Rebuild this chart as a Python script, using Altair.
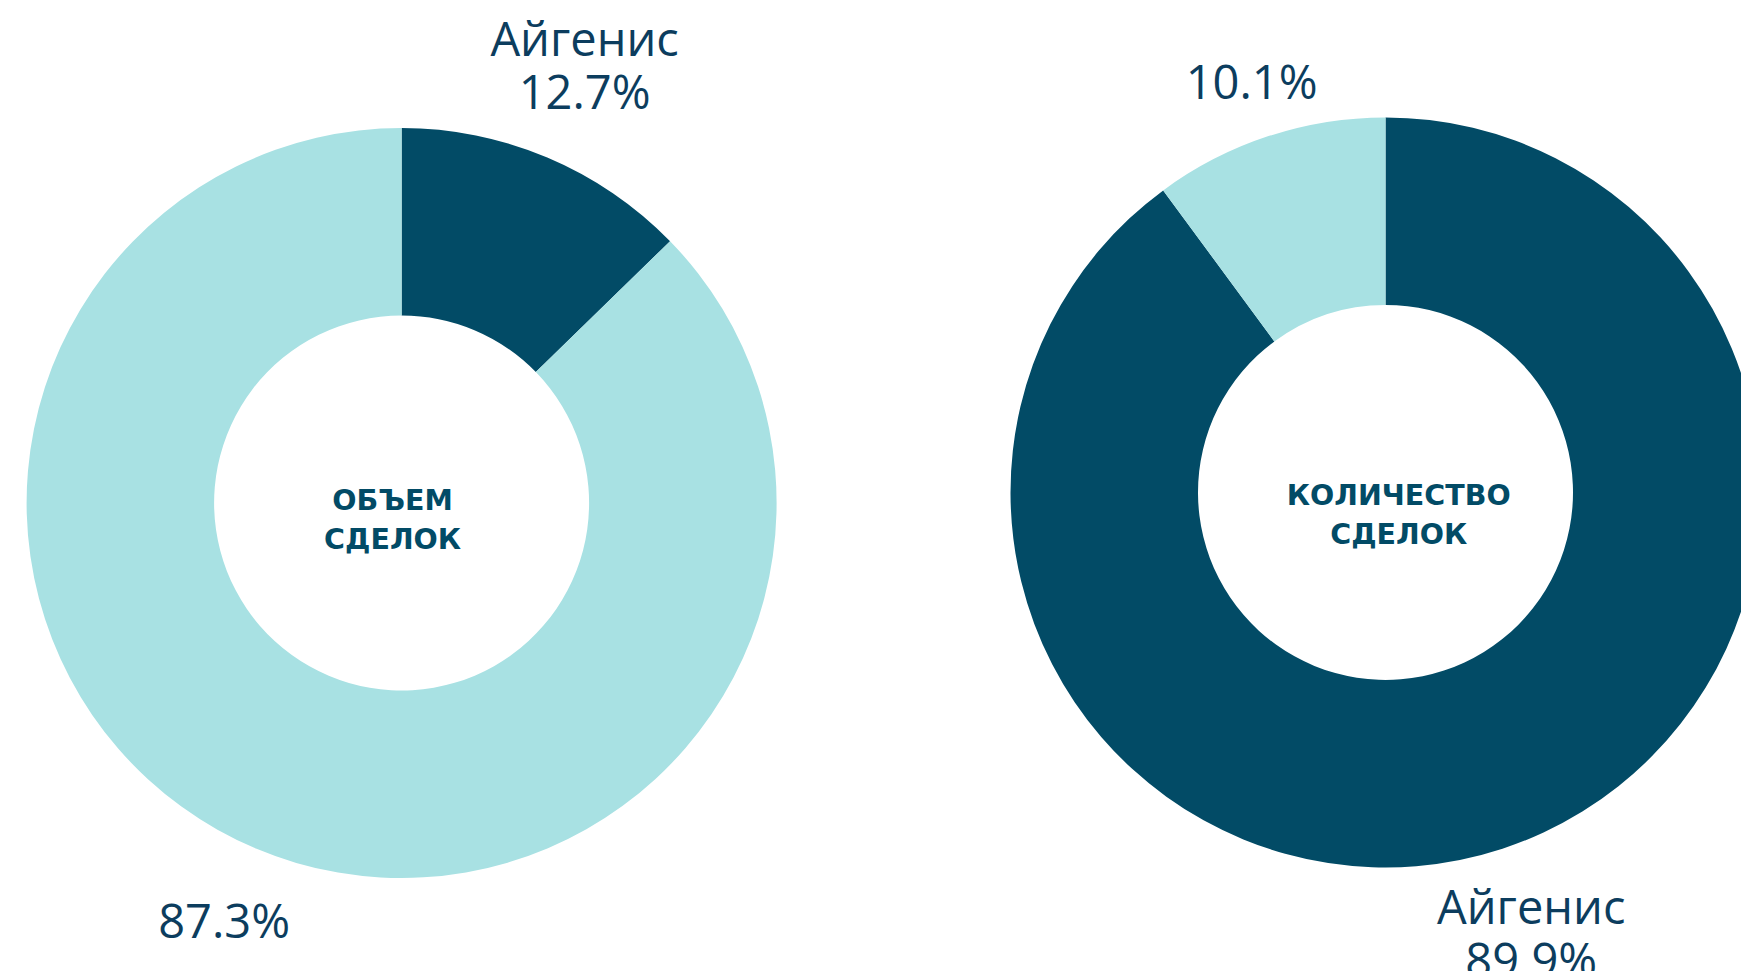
import math
import altair as alt
import pandas as pd

# ---------------- data ----------------
panels = ["volume", "count"]
categories = ["Айгенис", "Прочие"]
category_labels = ["Айгенис", ""]          # the second segment shows only its share
volume_share = [12.7, 87.3]
count_share = [89.9, 10.1]
center_titles = ["ОБЪЕМ\nСДЕЛОК", "КОЛИЧЕСТВО\nСДЕЛОК"]

# ---------------- style / layout ----------------
DARK = "#024B66"
LIGHT = "#A8E1E3"
LABEL_COLOR = "#0C3D5E"
LABEL_FONT = "Open Sans"
TITLE_FONT = "DejaVu Sans"
W, H = 1733, 963
OUTER, INNER = 375, 187.5
LABEL_SIZE, LABEL_LH = 47, 53
TITLE_SIZE, TITLE_LH = 28.5, 39

layout = {
    "volume": dict(cx=393.6, cy=495.0, tx=384.6, ty=512.0,
                   label_r={"Айгенис": 471, "Прочие": 457}),
    "count": dict(cx=1377.5, cy=484.4, tx=1390.7, ty=507.3,
                  label_r={"Айгенис": 467, "Прочие": 429}),
}

rows = []
for p, shares in zip(panels, [volume_share, count_share]):
    for i, (c, lab, v) in enumerate(zip(categories, category_labels, shares)):
        rows.append(dict(panel=p, category=c, order=i, share=v,
                         label=(lab + "\n" if lab else "") + f"{v:.1f}%"))
df = pd.DataFrame(rows)
titles_df = pd.DataFrame({"panel": panels, "title": center_titles})

theta_scale = alt.Scale(domain=[0, 100], range=[0, 2 * math.pi])
color_scale = alt.Scale(domain=categories, range=[DARK, LIGHT])

layers = []
for p in panels:
    L = layout[p]
    arc = (
        alt.Chart(df)
        .transform_filter(alt.datum.panel == p)
        .mark_arc(outerRadius=OUTER, innerRadius=INNER, stroke=None)
        .encode(
            theta=alt.Theta("share:Q", stack=True, scale=theta_scale),
            order=alt.Order("order:Q"),
            color=alt.Color("category:N", scale=color_scale, legend=None),
            x=alt.value(L["cx"]),
            y=alt.value(L["cy"]),
        )
    )
    layers.append(arc)
    for c, lab in zip(categories, category_labels):
        n_lines = 2 if lab else 1
        txt = (
            alt.Chart(df)
            .transform_filter(alt.datum.panel == p)
            .transform_stack(stack="share", groupby=[], as_=["s0", "s1"],
                             sort=[alt.SortField("order", order="ascending")])
            .transform_calculate(mid="(datum.s0 + datum.s1) / 2")
            .transform_filter(alt.datum.category == c)
            .mark_text(radius=L["label_r"][c], font=LABEL_FONT, fontSize=LABEL_SIZE,
                       fontWeight=400, color=LABEL_COLOR, lineBreak="\n",
                       lineHeight=LABEL_LH, align="center", baseline="middle",
                       dy=-(n_lines - 1) * LABEL_LH / 2)
            .encode(
                theta=alt.Theta("mid:Q", stack=None, scale=theta_scale),
                text="label:N",
                x=alt.value(L["cx"]),
                y=alt.value(L["cy"]),
            )
        )
        layers.append(txt)
    title = (
        alt.Chart(titles_df)
        .transform_filter(alt.datum.panel == p)
        .mark_text(font=TITLE_FONT, fontSize=TITLE_SIZE, fontWeight="bold", color=DARK,
                   lineBreak="\n", lineHeight=TITLE_LH, align="center", baseline="middle",
                   dy=-TITLE_LH / 2)
        .encode(text="title:N", x=alt.value(L["tx"]), y=alt.value(L["ty"]))
    )
    layers.append(title)

chart = (
    alt.layer(*layers)
    .properties(width=W, height=H, padding=0,
                autosize=alt.AutoSizeParams(type="none"))
    .configure_view(stroke=None)
)

chart.save("out.html", embed_options={"renderer": "svg", "actions": False})
